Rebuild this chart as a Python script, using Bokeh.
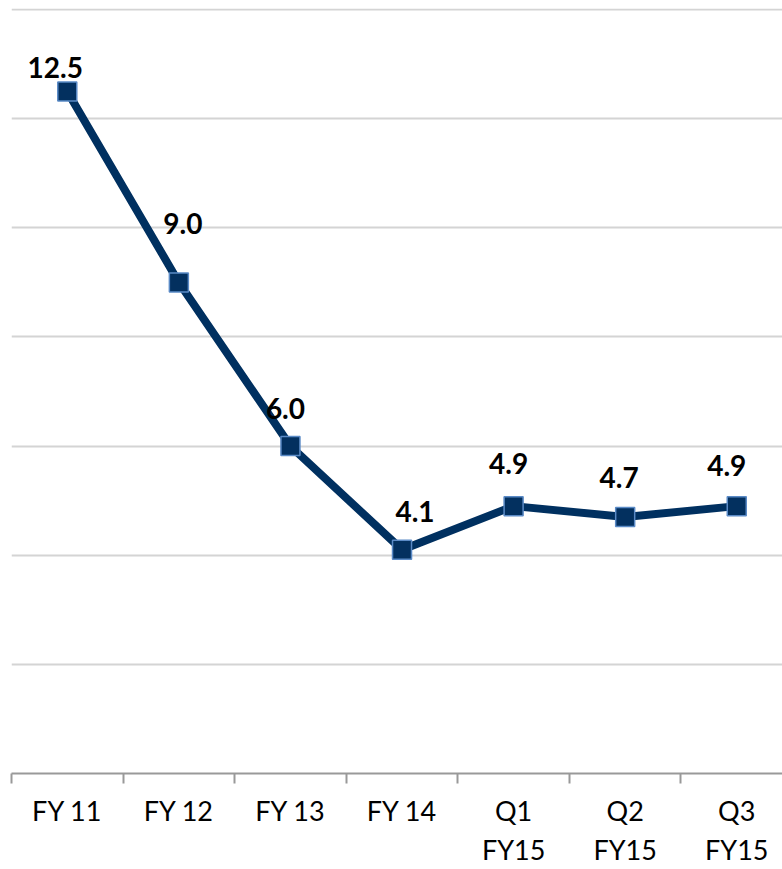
from bokeh.plotting import figure
from bokeh.models import ColumnDataSource, Range1d, FixedTicker, LabelSet
from bokeh.core.properties import value
from bokeh.embed import file_html
from bokeh.resources import INLINE

categories = ["FY 11", "FY 12", "FY 13", "FY 14", "Q1\nFY15", "Q2\nFY15", "Q3\nFY15"]
values = [12.5, 9.0, 6.0, 4.1, 4.9, 4.7, 4.9]
labels = ["12.5", "9.0", "6.0", "4.1", "4.9", "4.7", "4.9"]
y_ticks = [0, 2, 4, 6, 8, 10, 12, 14]

# label placement offsets (pixels), styling only
label_dx = [-12, 4, -5, 13, -5, -6, -10]
label_dy = [24, 59, 38, 38, 43, 40, 41]

idx = list(range(len(categories)))
src = ColumnDataSource(dict(x=idx, y=values, lab=labels, dx=label_dx, dy=label_dy))

p = figure(width=782, height=869, output_backend="svg", toolbar_location=None,
           x_range=Range1d(-0.5, 6.41), y_range=Range1d(0, 14.02),
           min_border_left=11, min_border_right=0, min_border_top=8, min_border_bottom=0)
p.outline_line_color = None
p.background_fill_color = "white"
p.border_fill_color = "white"

p.yaxis.visible = False
p.ygrid.ticker = FixedTicker(ticks=y_ticks)
p.ygrid.grid_line_color = "#d4d4d4"
p.ygrid.grid_line_width = 2
p.xgrid.grid_line_color = None

p.xaxis.ticker = FixedTicker(ticks=idx, minor_ticks=[i - 0.5 for i in idx])
p.xaxis.major_label_overrides = {i: c for i, c in zip(idx, categories)}
p.xaxis.major_tick_line_color = None
p.xaxis.major_tick_out = 0
p.xaxis.major_tick_in = 0
p.xaxis.minor_tick_out = 10
p.xaxis.minor_tick_in = 0
p.xaxis.minor_tick_line_color = "#999999"
p.xaxis.minor_tick_line_width = 2
p.xaxis.axis_line_color = "#999999"
p.xaxis.axis_line_width = 2
p.xaxis.major_label_text_font = "Lato"
p.xaxis.major_label_text_font_size = "27px"
p.xaxis.major_label_text_color = "black"
p.xaxis.major_label_standoff = 10

p.line("x", "y", source=src, line_color="#003060", line_width=8)
p.scatter("x", "y", source=src, marker="square", size=19,
          fill_color="#03305f", line_color="#5a8ac6", line_width=1.5)

ls = LabelSet(x="x", y="y", text="lab", source=src, x_offset="dx", y_offset="dy",
              text_align="center", text_baseline="middle",
              text_font=value("Lato"), text_font_style="bold",
              text_font_size="28px", text_color="black")
p.add_layout(ls)

open("out.html", "w").write(file_html(p, INLINE))
